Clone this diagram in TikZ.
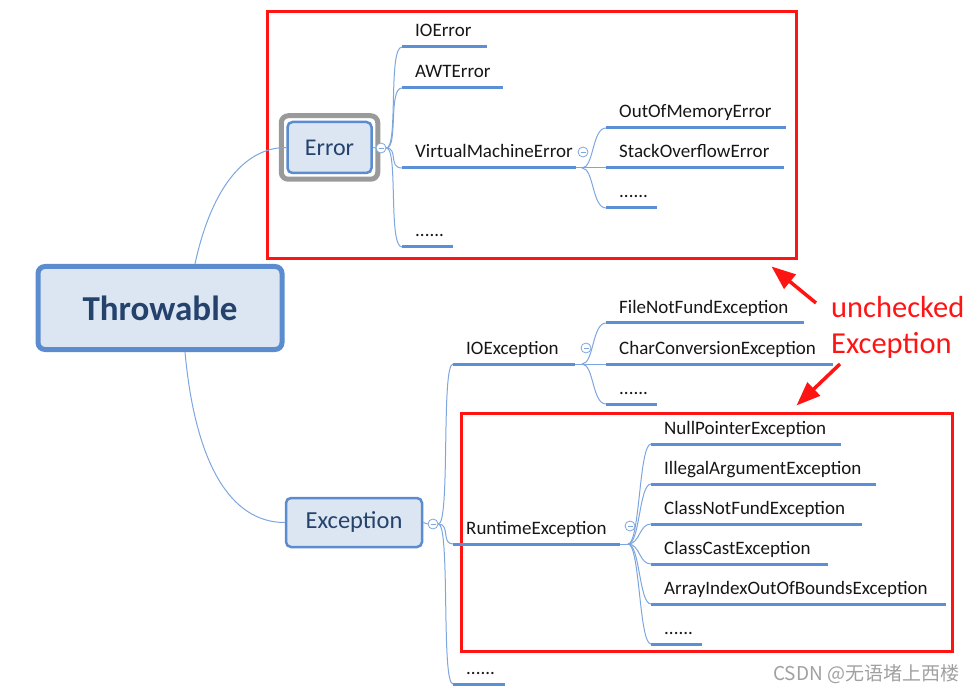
\documentclass[tikz,border=0pt]{standalone}
\usepackage{fontspec}
\setmainfont{Carlito}
\newfontfamily\cjk{Noto Sans CJK SC}
\usetikzlibrary{arrows.meta}
\definecolor{ulblue}{HTML}{5B8FD6}
\definecolor{lnblue}{HTML}{7DA6DE}
\definecolor{boxfill}{HTML}{DCE6F2}
\definecolor{boxline}{HTML}{5B8CD0}
\definecolor{redc}{HTML}{FF1414}
\definecolor{txt}{HTML}{161616}
\definecolor{boxtxt}{HTML}{24426C}
\definecolor{framegray}{HTML}{9A9A9A}
\definecolor{wmgray}{HTML}{A0A0A0}
\newcommand\leaf[6]{%
  \coordinate (#1-a) at (#2,#4);
  \coordinate (#1-b) at (#3,#4);
  \node[lbl] (#1) at (#5,#4-10) {#6};
  \draw[ul] (#1-a) -- (#1-b);
}
\begin{document}
\begin{tikzpicture}[x=1pt,y=-1pt,
  lbl/.style={anchor=base west, inner sep=0pt, font=\fontsize{19}{22}\selectfont, text=txt},
  ul/.style={draw=ulblue, line width=3pt},
  br/.style={draw=lnblue, line width=1pt},
  tog/.style={circle, draw=lnblue, line width=0.8pt, minimum size=10pt, inner sep=0pt, fill=white,
    path picture={\draw[lnblue, line width=0.8pt] ([xshift=-2.5pt]path picture bounding box.center) -- ([xshift=2.5pt]path picture bounding box.center);}},
  topic/.style={draw=boxline, fill=boxfill, rounded corners=5pt, inner sep=0pt, text=boxtxt},
  redbox/.style={draw=redc, line width=3pt, inner sep=0pt},
  redarrow/.style={draw=redc, line width=3.5pt, -{Triangle[length=24pt,width=18pt]}},
]
\useasboundingbox (0,0) rectangle (979,692);

% red frames
\node[redbox, minimum width=529pt, minimum height=247pt] (rb1) at (531.5,135.5) {};
\node[redbox, minimum width=491pt, minimum height=238pt] (rb2) at (706.5,532) {};

% central topic
\node[topic, line width=5pt, rounded corners=7pt, minimum width=244pt, minimum height=83pt,
      font=\bfseries\fontsize{35}{40}\selectfont] (thr) at (160,308) {Throwable};

% Error topic with gray frame
\node[topic, line width=2.5pt, minimum width=84pt, minimum height=51pt,
      font=\fontsize{24}{28}\selectfont] (err) at (329.5,147.5) {Error};
\draw[framegray, line width=5pt, rounded corners=7pt]
  ([shift={(-5,-5)}]err.north west) rectangle ([shift={(5,5)}]err.south east);

% Exception topic
\node[topic, line width=2.5pt, minimum width=136pt, minimum height=49pt,
      font=\fontsize{24.5}{28}\selectfont] (exc) at (354,522.5) {Exception};

% main connectors
\draw[br] (thr.north) ++(35,0) coordinate (thrN)
  (thrN) .. controls +(15,-70) and +(-45,0) .. (err.west);
\draw[br] (thr.south) ++(25,0) coordinate (thrS)
  (thrS) .. controls +(10,110) and +(-55,0) .. (exc.west);

% toggles
\node[tog] (errtog) at (381,148) {};
\node[tog] (exctog) at (433,524) {};
\node[tog] (vmetog) at (583,152) {};
\node[tog] (iotog) at (586,348) {};
\node[tog] (rttog) at (630,526) {};
\draw[br] (err.east) -- (errtog.west);
\draw[br] (exc.east) -- (exctog.west);

% Error children
\leaf{ioerr}{402}{487}{47}{415}{IOError}
\leaf{awt}{402}{503}{88}{415}{AWTError}
\leaf{vme}{402}{576}{168}{415}{VirtualMachineError}
\leaf{errdots}{402}{453}{247}{415}{......}
\foreach \c in {ioerr,awt,vme,errdots}
  \draw[br] (errtog.east) .. controls +(12,0) and +(-14,0) .. (\c-a);

% VirtualMachineError children
\leaf{oom}{606}{786}{128}{619}{OutOfMemoryError}
\leaf{soe}{606}{784}{168}{619}{StackOverflowError}
\leaf{vmedots}{606}{657}{208}{619}{......}
\draw[br] (vme-b) -- (soe-a);
\coordinate (vmej) at (582,168);
\foreach \c in {oom,vmedots}
  \draw[br] (vmej) .. controls +(12,0) and +(-14,0) .. (\c-a);

% Exception children
\leaf{ioexc}{453}{575}{364}{466}{IOException}
\leaf{rte}{453}{620}{544}{466}{RuntimeException}
\leaf{excdots}{453}{505}{684}{466}{......}
\foreach \c in {ioexc,rte,excdots}
  \draw[br] (exctog.east) .. controls +(12,0) and +(-12,0) .. (\c-a);

% IOException children
\leaf{fnfe}{606}{804}{323}{619}{FileNotFundException}
\leaf{ccex}{606}{833}{364}{619}{CharConversionException}
\leaf{iodots}{606}{657}{404}{619}{......}
\draw[br] (ioexc-b) -- (ccex-a);
\coordinate (ioj) at (582,364);
\foreach \c in {fnfe,iodots}
  \draw[br] (ioj) .. controls +(12,0) and +(-14,0) .. (\c-a);

% RuntimeException children
\leaf{npe}{651}{841}{444}{664}{NullPointerException}
\leaf{iae}{651}{876}{484}{664}{IllegalArgumentException}
\leaf{cnfe}{651}{862}{524}{664}{ClassNotFundException}
\leaf{cce}{651}{828}{564}{664}{ClassCastException}
\leaf{aio}{651}{946}{604}{664}{ArrayIndexOutOfBoundsException}
\leaf{rtdots}{651}{702}{644}{664}{......}
\coordinate (rtj) at (628,544);
\draw[br] (rte-b) -- (rtj);
\foreach \c in {npe,iae,cnfe,cce,aio,rtdots}
  \draw[br] (rtj) .. controls +(12,0) and +(-12,0) .. (\c-a);

% annotation
\node[anchor=base west, inner sep=0pt, text=redc, font=\fontsize{30.5}{34}\selectfont] (unc1) at (831,318) {unchecked};
\node[anchor=base west, inner sep=0pt, text=redc, font=\fontsize{30.5}{34}\selectfont] (unc2) at (831,353) {Exception};
\coordinate (a1s) at (816,303);
\coordinate (a1e) at ([shift={(-26,6)}]rb1.south east);
\coordinate (a2s) at (840,364);
\coordinate (a2e) at ([shift={(-157,-6)}]rb2.north east);
\draw[redarrow] (a1s) -- (a1e);
\draw[redarrow] (a2s) -- (a2e);

% watermark
\node[anchor=base west, inner sep=0pt, text=wmgray, font=\cjk\fontsize{19}{22}\selectfont] (wm) at (773,680) {CSDN @无语堵上西楼};
\end{tikzpicture}
\end{document}
